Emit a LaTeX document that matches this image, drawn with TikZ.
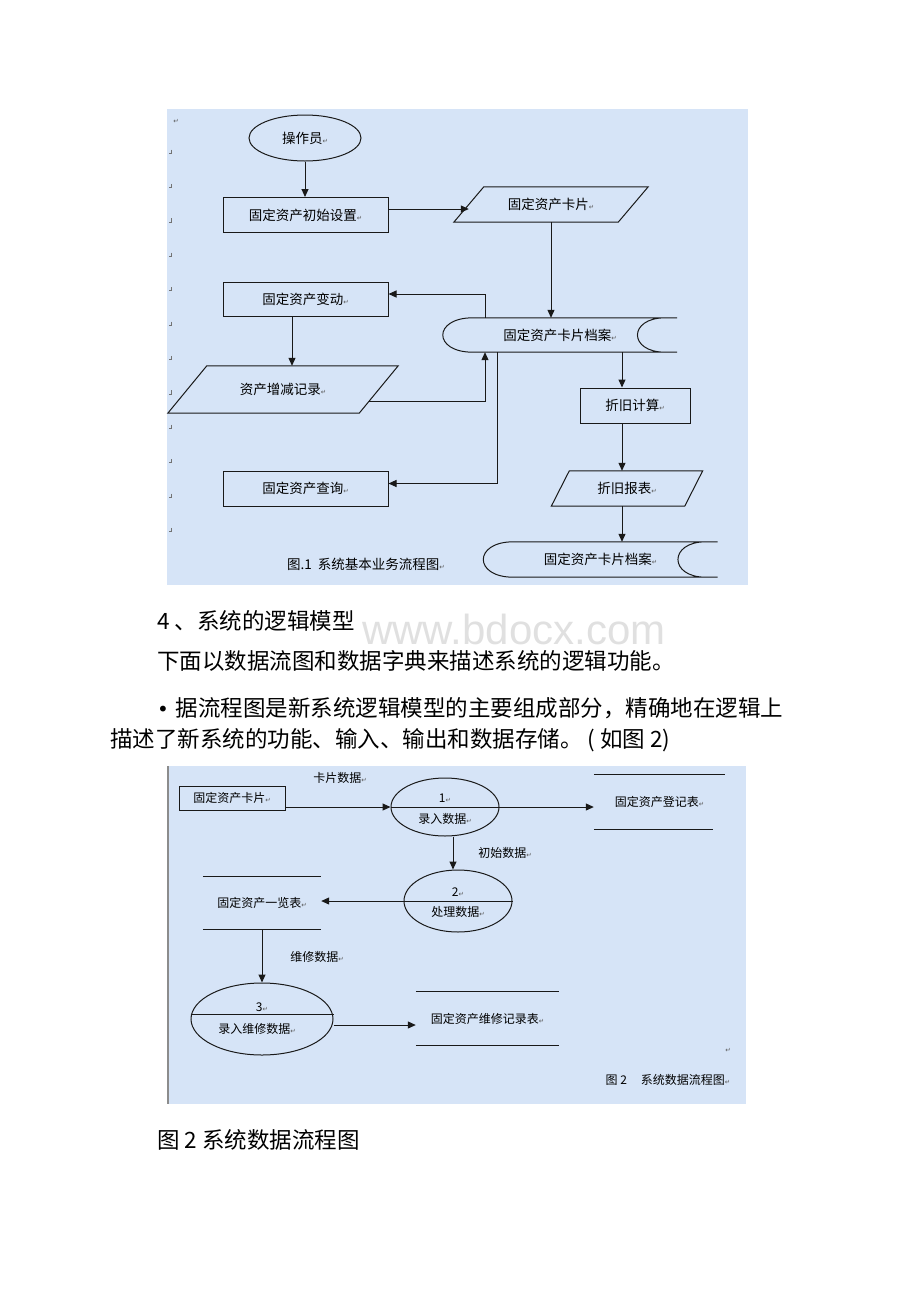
\documentclass[tikz,border=0pt]{standalone}
\usepackage{fontspec}
\setmainfont{Noto Sans CJK SC}
\newfontfamily\symfont{DejaVu Sans}
\newfontfamily\wmfont{Liberation Sans}
\usepackage{tikz}
\usetikzlibrary{shapes.geometric,arrows.meta}

\definecolor{panel}{RGB}{214,228,247}
\newcommand{\ret}{{\symfont\fontsize{6.5}{7}\selectfont\color{black!65}↵}}

% parallelogram round a node: name, half slant
\newcommand{\slantdraw}[2]{\draw[wire] ([xshift=#2]#1.north west) -- ([xshift=#2]#1.north east) -- ([xshift=-#2]#1.south east) -- ([xshift=-#2]#1.south west) -- cycle;}
% stored data round a node
\newcommand{\tapedraw}[1]{\draw[wire] ([xshift=30pt]#1.north west) -- (#1.north east)
  ([xshift=30pt]#1.south west) -- (#1.south east)
  ([xshift=30pt]#1.north west) .. controls ([xshift=-10pt]#1.north west) and ([xshift=-10pt]#1.south west) .. ([xshift=30pt]#1.south west)
  ([xshift=-12pt]#1.north east) .. controls ([xshift=-49pt]#1.north east) and ([xshift=-49pt]#1.south east) .. ([xshift=-12pt]#1.south east);}

\begin{document}
\begin{tikzpicture}[x=1pt,y=-1pt,
  wire/.style={black!90,line width=1pt},
  flow/.style={wire,-{Triangle[length=8pt,width=7pt]}},
  lbl/.style={font=\fontsize{13.5}{15}\selectfont,inner sep=0pt},
  dfd/.style={font=\fontsize{12}{13}\selectfont,inner sep=0pt},
  body/.style={font=\fontsize{22.5}{24}\selectfont,inner sep=0pt,anchor=west},
  box/.style={lbl,draw=black!90,line width=1pt,minimum width=165pt,minimum height=35pt},
  oval/.style={ellipse,draw=black!90,line width=1pt,inner sep=0pt},
  slantnode/.style={lbl,minimum height=35pt},
  tapenode/.style={lbl,minimum width=234pt,minimum height=34pt},
  storenode/.style={dfd,minimum height=53pt}]

\useasboundingbox (0,0) rectangle (920,1302);

% figure 1
\fill[panel] (167,109) rectangle (748,585);
\node (ret1) at (176,121) {\ret};
\foreach \k in {0,...,11}
  \draw[black!55,line width=0.5pt] (171.5,{149.5+34.4*\k}) -- (171.5,{153+34.4*\k}) -- (168.5,{153+34.4*\k});

\node[oval,lbl,minimum width=112pt,minimum height=46pt] (oper) at (305,138) {操作员\ret};
\node[box] (init) at (305.5,215) {固定资产初始设置\ret};
\node[slantnode,minimum width=164pt] (card) at (551,204.5) {固定资产卡片\ret};
\node[tapenode] (file) at (560,335) {固定资产卡片档案\ret};
\node[box,minimum height=34pt] (change) at (305.5,299) {固定资产变动\ret};
\node[slantnode,minimum width=191pt,minimum height=47pt] (rec) at (283,389.5) {资产增减记录\ret};
\node[box] (query) at (305.5,488.5) {固定资产查询\ret};
\node[box,minimum width=110pt] (depr) at (635,405.5) {折旧计算\ret};
\node[slantnode,minimum width=133pt] (rpt) at (627,488.5) {折旧报表\ret};
\node[tapenode,minimum height=35pt] (file2) at (600.5,559.5) {固定资产卡片档案\ret};
\node[lbl] (cap1) at (366,564) {图.1\hspace{6pt}系统基本业务流程图\ret};
\coordinate (recout) at (369,401);

\slantdraw{card}{15pt}
\slantdraw{rec}{19.5pt}
\slantdraw{rpt}{9pt}
\tapedraw{file}
\tapedraw{file2}

\draw[flow] (oper.south) -- (oper.south |- init.north);
\draw[flow] ([yshift=6pt]init.east) -- ([yshift=6pt]init.east -| card.west);
\draw[flow] (card.south) -- (card.south |- file.north);
\draw[flow] ([xshift=-75pt]file.north) |- ([yshift=5pt]change.east);
\draw[flow] ([xshift=-13.5pt]change.south) -- ([xshift=-13.5pt]change.south |- rec.north);
\draw[flow] (recout) -| ([xshift=-75pt]file.south);
\draw[flow] ([xshift=-63pt]file.south) |- ([yshift=5pt]query.east);
\draw[flow] ([xshift=62pt]file.south) -- ([xshift=-13pt]depr.north);
\draw[flow] ([xshift=-13pt]depr.south) -- ([xshift=-5pt]rpt.north);
\draw[flow] ([xshift=-5pt]rpt.south) -- ([xshift=21.5pt]file2.north);

% text between the figures
\node[font=\wmfont\fontsize{42}{44}\selectfont,text=black!12,inner sep=0pt] (mark) at (514,629) {www.bdocx.com};
\node[body] (head) at (157,621) {4 、系统的逻辑模型};
\node[body] (line1) at (157,661) {下面以数据流图和数据字典来描述系统的逻辑功能。};
\node[body] (line2) at (157,708) {{\symfont\fontsize{20}{22}\selectfont•}\hspace{7pt}据流程图是新系统逻辑模型的主要组成部分，精确地在逻辑上};
\node[body] (line3) at (110,740) {描述了新系统的功能、输入、输出和数据存储。 ( 如图 2)};

% figure 2
\fill[panel] (167,766) rectangle (746,1104);
\draw[black!45,line width=2pt] (168,766) -- (168,1104);

\node[dfd,draw=black!90,line width=1pt,minimum width=106pt,minimum height=24pt] (cardin) at (232,798) {固定资产卡片\ret};
\node[oval,minimum width=108pt,minimum height=58pt] (proc1) at (445,807) {};
\node[oval,minimum width=108pt,minimum height=62pt] (proc2) at (458,901) {};
\node[oval,minimum width=142pt,minimum height=72pt] (proc3) at (262,1019) {};
\node[storenode,minimum width=131pt,minimum height=54pt] (store1) at (659.5,802) {固定资产登记表\ret};
\node[storenode,minimum width=118pt,minimum height=52pt] (store2) at (262,903) {固定资产一览表\ret};
\node[storenode,minimum width=143pt] (store3) at (487.5,1018.5) {固定资产维修记录表\ret};

\node[dfd] (n1) at ([yshift=9pt]proc1.center) {1\ret};
\node[dfd] (t1) at ([yshift=-12pt]proc1.center) {录入数据\ret};
\node[dfd] (n2) at ([yshift=9pt]proc2.center) {2\ret};
\node[dfd] (t2) at ([yshift=-11pt]proc2.center) {处理数据\ret};
\node[dfd] (n3) at ([yshift=12pt]proc3.center) {3\ret};
\node[dfd] (t3) at ([xshift=-5pt,yshift=-10pt]proc3.center) {录入维修数据\ret};

\node[dfd] (lab1) at (340,778) {卡片数据\ret};
\node[dfd] (lab2) at (505,853) {初始数据\ret};
\node[dfd] (lab3) at (317,957) {维修数据\ret};

\draw[wire] (store1.north west) -- (store1.north east) (store1.south west) -- ([xshift=-12pt]store1.south east);
\draw[wire] (store2.north west) -- (store2.north east) (store2.south west) -- (store2.south east);
\draw[wire] (store3.north west) -- (store3.north east) (store3.south west) -- (store3.south east);
\draw[wire] (proc1.west) -- (proc1.east);
\draw[wire] (proc2.west) -- (proc2.east);
\draw[wire] ([yshift=5pt]proc3.west) -- ([yshift=5pt]proc3.east);

\draw[flow] ([yshift=-9pt]cardin.east) -- (proc1.west);
\draw[flow] (proc1.east) -- (proc1.east -| store1.west);
\draw[flow] ([xshift=8pt]proc1.south) -- ([xshift=8pt]proc1.south |- proc2.north);
\draw[flow] (proc2.west) -- (proc2.west -| store2.east);
\draw[flow] (store2.south) -- (proc3.north);
\draw[flow] ([yshift=-6pt]proc3.east) -- ([yshift=-6pt]proc3.east -| store3.west);

\node (ret2) at (728,1050) {\ret};
\node[dfd] (cap2) at (668,1080) {图 2\hspace{14pt}系统数据流程图\ret};

\node[body] (foot) at (157,1140) {图 2 系统数据流程图};
\end{tikzpicture}
\end{document}
